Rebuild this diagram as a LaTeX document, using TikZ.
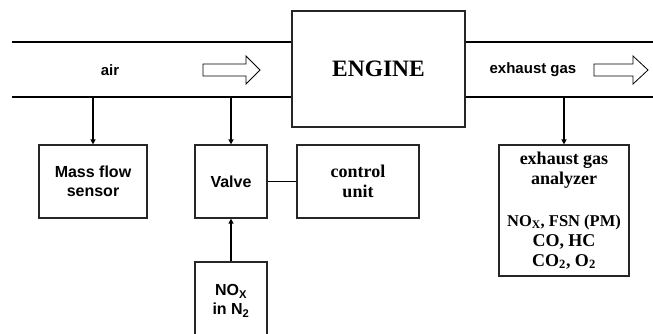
\documentclass[tikz,border=0pt]{standalone}
\usepackage{fontspec}
\setmainfont{Liberation Serif}
\setsansfont{Liberation Sans}
\usetikzlibrary{arrows.meta}
\begin{document}
\begin{tikzpicture}[x=1pt,y=-1pt,
 pipe/.style={line width=2.8pt},
 box/.style={draw=black!85, line width=1.2pt, rectangle, inner sep=0pt, align=center},
 conn/.style={line width=1.6pt, -{Triangle[length=5pt,width=5pt]}},
 sansb/.style={font=\sffamily\bfseries\fontsize{16}{19}\selectfont},
 serifb/.style={font=\bfseries\fontsize{18}{20}\selectfont},
 hollow/.style={draw=black, line width=0.8pt, fill=white}]
\useasboundingbox (0,0) rectangle (653,333);
% pipe reference coordinates
\coordinate (pipeT) at (0,42);
\coordinate (pipeB) at (0,97);
\coordinate (leftend) at (12,0);
\coordinate (rightend) at (653,0);
% nodes
\node[box, minimum width=173pt, minimum height=116pt, font=\bfseries\fontsize{23.5}{26}\selectfont] (engine) at (378.5,69) {ENGINE};
\node[box, sansb, minimum width=108pt, minimum height=73pt] (mass) at (93,181.5) {Mass flow\\sensor};
\node[box, sansb, minimum width=72pt, minimum height=73pt] (valve) at (231,181.5) {Valve};
\node[box, serifb, minimum width=122pt, minimum height=73pt] (control) at (358,181.5) {control\\unit};
\node[box, serifb, minimum width=130pt, minimum height=131pt] (analyzer) at (564,210.5)
  {exhaust gas\\analyzer\\[22pt]{\fontsize{16.5}{20}\selectfont NO\textsubscript{X}, FSN (PM)}\\CO, HC\\CO\textsubscript{2}, O\textsubscript{2}};
\node[box, sansb, minimum width=72pt, minimum height=78pt] (nox) at (231,301) {NO\textsubscript{X}\\in N\textsubscript{2}};
% pipe walls
\draw[pipe] (leftend |- pipeT) -- (engine.west |- pipeT);
\draw[pipe] (leftend |- pipeB) -- (engine.west |- pipeB);
\draw[pipe] (engine.east |- pipeT) -- (rightend |- pipeT);
\draw[pipe] (engine.east |- pipeB) -- (rightend |- pipeB);
% labels in pipe
\node[sansb, font=\sffamily\bfseries\fontsize{15}{18}\selectfont] (air) at (110,70) {air};
\node[sansb, font=\sffamily\bfseries\fontsize{15}{18}\selectfont] (exh) at (533,70) {exhaust gas};
% hollow flow arrows
\draw[hollow] (203,64) -- (246,64) -- (246,56) -- (260,70) -- (246,84) -- (246,76) -- (203,76) -- cycle;
\draw[hollow] (594,64) -- (633,64) -- (633,56) -- (648,70) -- (633,84) -- (633,76) -- (594,76) -- cycle;
% connectors
\draw[conn] (mass.north |- pipeB) -- (mass.north);
\draw[conn] (valve.north |- pipeB) -- (valve.north);
\draw[conn] (analyzer.north |- pipeB) -- (analyzer.north);
\draw[line width=1.6pt] (valve.east) -- (control.west);
\draw[conn] (nox.north) -- (valve.south);
\end{tikzpicture}
\end{document}
